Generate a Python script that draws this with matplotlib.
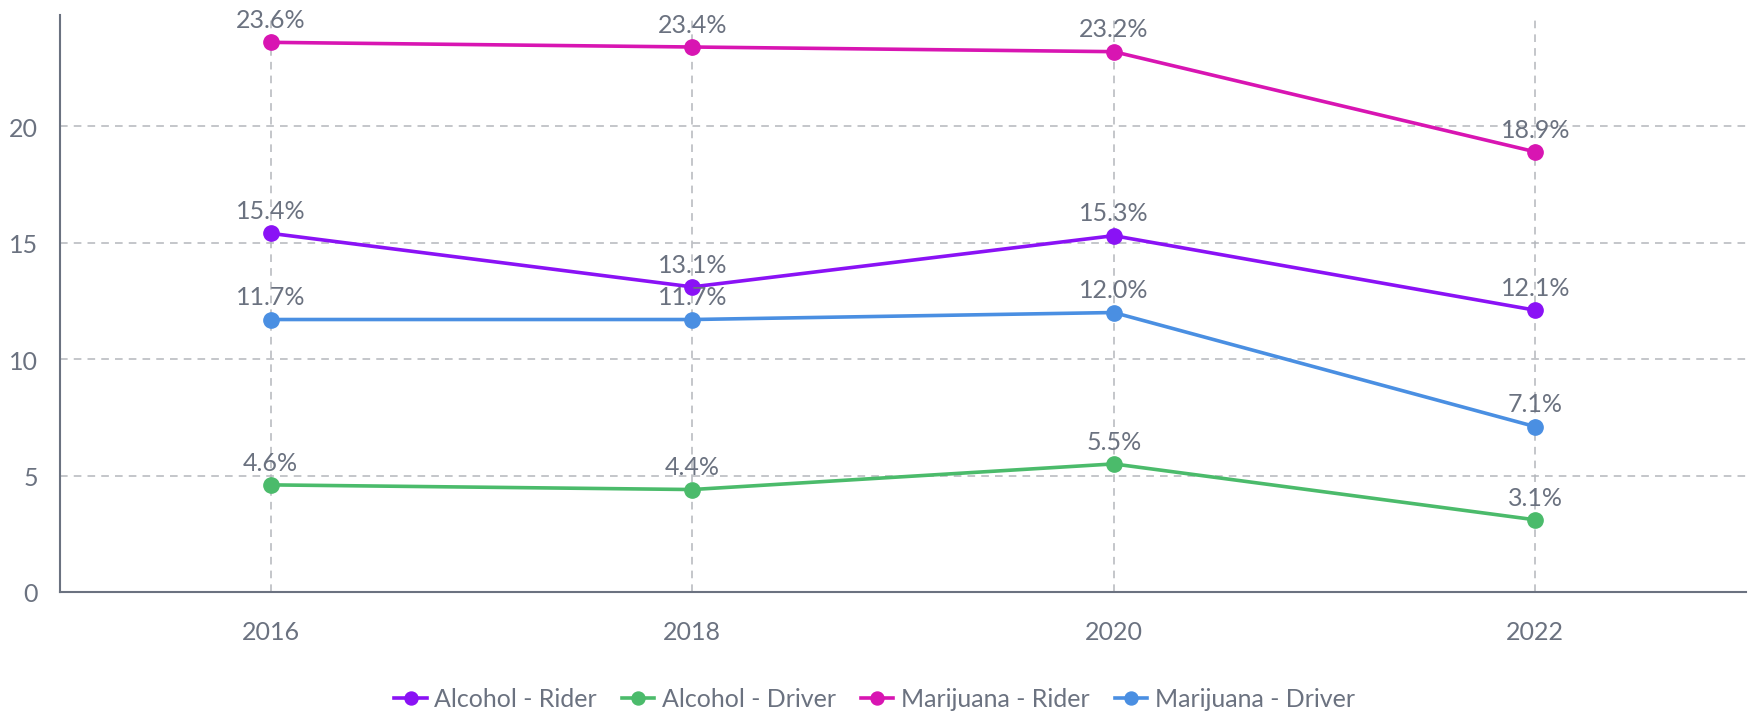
import matplotlib
matplotlib.use("Agg")
import matplotlib.pyplot as plt

years = [2016, 2018, 2020, 2022]
alcohol_rider = [15.4, 13.1, 15.3, 12.1]
alcohol_driver = [4.6, 4.4, 5.5, 3.1]
marijuana_rider = [23.6, 23.4, 23.2, 18.9]
marijuana_driver = [11.7, 11.7, 12.0, 7.1]
series_names = ["Alcohol - Rider", "Alcohol - Driver", "Marijuana - Rider", "Marijuana - Driver"]
y_ticks = [0, 5, 10, 15, 20]

colors = ["#8a12f5", "#4bbb6b", "#d815b2", "#4a8fe2"]
text_color = "#6b7280"
grid_color = "#b4b7bc"

plt.rcParams['font.family'] = ['Lato', 'DejaVu Sans']

fig = plt.figure(figsize=(17.49, 7.139), dpi=100)
ax = fig.add_axes([60/1749, 121/714, (1746-60)/1749, (593-16)/714])

series = [alcohol_rider, alcohol_driver, marijuana_rider, marijuana_driver]
for name, vals, c in zip(series_names, series, colors):
    ax.plot(years, vals, color=c, lw=2.6, marker='o', markersize=11, label=name, zorder=3)
    for x, v in zip(years, vals):
        ax.annotate(f"{v:.1f}%", (x, v), xytext=(0, 8), textcoords='offset points',
                    ha='center', va='bottom', fontsize=18, color=text_color, zorder=4)

ax.set_xlim(2015, 2023)
ax.set_ylim(0, 24.77)
ax.set_xticks(years)
ax.set_xticklabels([str(y) for y in years])
ax.set_yticks(y_ticks)
ax.tick_params(axis='both', length=0, labelsize=18, colors=text_color)
ax.tick_params(axis='x', pad=20)
ax.tick_params(axis='y', pad=16)
ax.grid(True, color=grid_color, linestyle=(0, (5, 4)), lw=1.1, zorder=1)
for s in ['top', 'right']:
    ax.spines[s].set_visible(False)
for s in ['left', 'bottom']:
    ax.spines[s].set_color(text_color)
    ax.spines[s].set_linewidth(1.5)

leg = fig.legend(loc='center', bbox_to_anchor=(0.5, 1 - 700/714), ncol=4, frameon=False,
                 fontsize=18, handlelength=1.3, handletextpad=0.3, columnspacing=1.0,
                 markerscale=0.85)
for t in leg.get_texts():
    t.set_color(text_color)

fig.savefig("out.png", dpi=100)
